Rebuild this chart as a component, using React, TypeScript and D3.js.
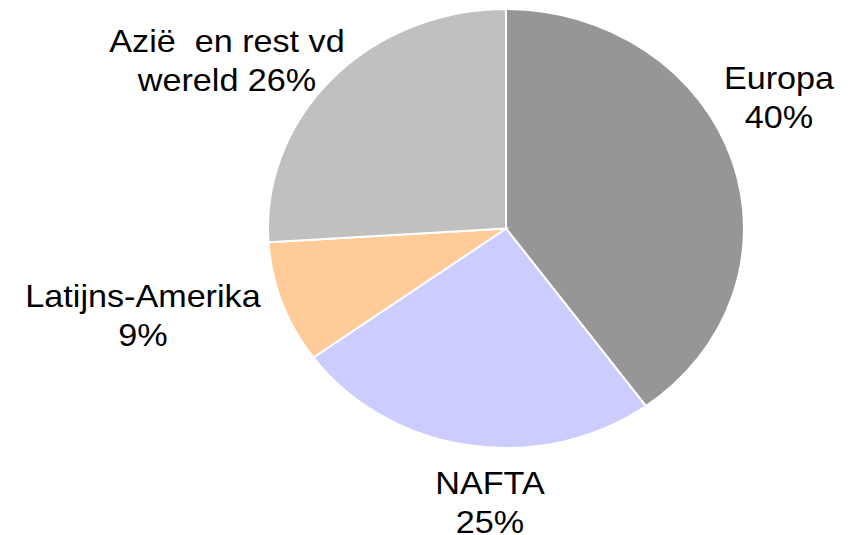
import React, { useRef, useEffect } from 'react';
import * as d3 from 'd3';

// regions and their share (%)
const regions = ['Europa', 'NAFTA', 'Latijns-Amerika', 'Azië en rest vd wereld'];
const shares = [40, 25, 9, 26];
const sliceColors = ['#969696', '#CCCCFF', '#FFCC99', '#C0C0C0'];

// label lines as they are broken in the chart
const labelLines = [
    ['Europa', '40%'],
    ['NAFTA', '25%'],
    ['Latijns-Amerika', '9%'],
    ['Azië  en rest vd', 'wereld 26%'],
];

const PieChart = () => {
    const ref = useRef<SVGSVGElement>(null);

    useEffect(() => {
        d3.select(ref.current).selectAll('*').remove();

        const width = 857, height = 535;
        const cx = 506, cy = 228.5;
        const ry = 219.5, rx = 238;
        const sx = rx / ry; // chart is stretched a bit horizontally

        const svg = d3.select(ref.current)
            .attr('width', width)
            .attr('height', height);

        const pie = d3.pie<number>().sort(null).value(d => d);
        const arc = d3.arc<d3.PieArcDatum<number>>().innerRadius(0).outerRadius(ry);

        const g = svg.append('g')
            .attr('transform', `translate(${cx}, ${cy}) scale(${sx}, 1)`);

        g.selectAll('path')
            .data(pie(shares))
            .enter()
            .append('path')
            .attr('d', arc)
            .attr('fill', (d, i) => sliceColors[i])
            .attr('stroke', '#fff')
            .attr('stroke-width', 2)
            .attr('vector-effect', 'non-scaling-stroke');

        // label anchors (centre x, first baseline)
        const labelPos = [
            { x: 779, y: 89 },
            { x: 490, y: 494 },
            { x: 143, y: 307 },
            { x: 227, y: 52 },
        ];
        const lineHeight = 39;

        labelLines.forEach((lines, i) => {
            const t = svg.append('text')
                .attr('transform', `translate(${labelPos[i].x}, ${labelPos[i].y}) scale(${sx}, 1)`)
                .attr('text-anchor', 'middle')
                .attr('font-family', '"Liberation Sans", Arial, sans-serif')
                .attr('font-size', 31.5)
                .attr('fill', '#000')
                .style('white-space', 'pre');
            lines.forEach((line, j) => {
                t.append('tspan')
                    .attr('x', 0)
                    .attr('y', j * lineHeight)
                    .text(line);
            });
        });
    }, []);

    return (
        <svg ref={ref} style={{ position: 'absolute', left: 0, top: 0, display: 'block' }} />
    );
};

export default function App() {
    return <PieChart />;
}
